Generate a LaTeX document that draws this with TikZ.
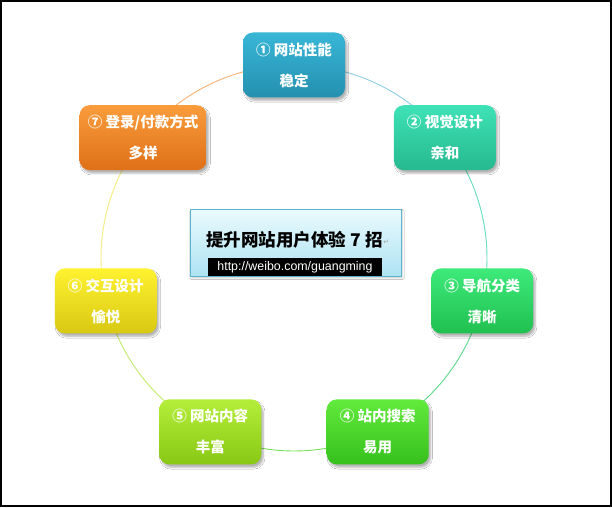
\documentclass[tikz,border=0pt]{standalone}
\usepackage{fontspec}
\newfontfamily\cjk{Noto Sans CJK SC}
\newfontfamily\libsans{Liberation Sans}
\newfontfamily\djvsans{DejaVu Sans}
\usetikzlibrary{shadows.blur}
\pgfdeclarelayer{bg}
\pgfsetlayers{bg,main}
\definecolor{c1t}{HTML}{38B6D6}\definecolor{c1b}{HTML}{2590B0}
\definecolor{c2t}{HTML}{3EE2B6}\definecolor{c2b}{HTML}{27B98F}
\definecolor{c3t}{HTML}{3DEA7A}\definecolor{c3b}{HTML}{20C050}
\definecolor{c4t}{HTML}{62EA3C}\definecolor{c4b}{HTML}{36C01C}
\definecolor{c5t}{HTML}{B4EE3A}\definecolor{c5b}{HTML}{88C814}
\definecolor{c6t}{HTML}{FFF230}\definecolor{c6b}{HTML}{D8C812}
\definecolor{c7t}{HTML}{F99C3C}\definecolor{c7b}{HTML}{DF7018}
\definecolor{a12}{HTML}{8CCFE3}\definecolor{a23}{HTML}{62DDBE}
\definecolor{a34}{HTML}{5CD98A}\definecolor{a45}{HTML}{78E058}
\definecolor{a56}{HTML}{C4EA70}\definecolor{a67}{HTML}{F6EC80}
\definecolor{a71}{HTML}{F8B274}
\definecolor{cbord}{HTML}{5AB4D0}
\definecolor{ctop}{HTML}{EAFAFD}\definecolor{cbot}{HTML}{AEE3F3}
\tikzset{
  stepnode/.style={rounded corners=10pt, minimum width=102pt, minimum height=65pt,
    inner sep=0pt, align=center, text=white,
    font=\cjk\bfseries\fontsize{14.5}{31}\selectfont,
    blur shadow={shadow xshift=2pt, shadow yshift=-3pt, shadow blur steps=6, shadow opacity=30}},
  ring/.style={line width=0.9pt},
  seg/.style={radius=193pt, delta angle=-51.4286}
}
\begin{document}
\begin{tikzpicture}[x=1pt,y=1pt]
\useasboundingbox (0,0) rectangle (612,507);
\begin{scope}[shift={(294,249)}]
\node[stepnode, top color=c1t, bottom color=c1b] (n1) at (90:193pt) {① 网站性能\\稳定};
\node[stepnode, top color=c2t, bottom color=c2b] (n2) at (38.571:193pt) {② 视觉设计\\亲和};
\node[stepnode, top color=c3t, bottom color=c3b] (n3) at (-12.857:193pt) {③ 导航分类\\清晰};
\node[stepnode, top color=c4t, bottom color=c4b] (n4) at (-64.286:193pt) {④ 站内搜索\\易用};
\node[stepnode, top color=c5t, bottom color=c5b] (n5) at (-115.714:193pt) {⑤ 网站内容\\丰富};
\node[stepnode, top color=c6t, bottom color=c6b] (n6) at (-167.143:193pt) {⑥ 交互设计\\愉悦};
\node[stepnode, top color=c7t, bottom color=c7b, minimum width=127pt] (n7) at (141.429:193pt) {⑦ 登录/付款方式\\多样};
\end{scope}
\node[draw=cbord, line width=0.8pt, top color=ctop, bottom color=cbot, minimum width=211pt, minimum height=67pt,
  blur shadow={shadow xshift=1.5pt, shadow yshift=-2pt, shadow blur steps=4, shadow opacity=20}] (ctr) at (295.5,264.5) {};
\node[inner sep=0pt, font=\cjk\bfseries\fontsize{17.5}{20}\selectfont] (title) at (294.5,267.5) {提升网站用户体验 7 招};
\node[anchor=west, inner sep=0pt, xshift=0.5pt, yshift=-3pt, text=gray!70, font=\djvsans\fontsize{7}{8}\selectfont] (ret) at (title.east) {↵};
\node[fill=black, text=white, minimum width=174pt, minimum height=18pt, inner sep=0pt,
  font=\libsans\fontsize{12.4}{14}\selectfont] (url) at (295,240) {http://weibo.com/guangming};
\begin{pgfonlayer}{bg}
\fill[white] (0,0) rectangle (612,507);
\draw[line width=2pt] (1,1) rectangle (611,506);
\draw[ring, a12] (n1.center) arc[seg, start angle=90];
\draw[ring, a23] (n2.center) arc[seg, start angle=38.571];
\draw[ring, a34] (n3.center) arc[seg, start angle=-12.857];
\draw[ring, a45] (n4.center) arc[seg, start angle=-64.286];
\draw[ring, a56] (n5.center) arc[seg, start angle=-115.714];
\draw[ring, a67] (n6.center) arc[seg, start angle=-167.143];
\draw[ring, a71] (n7.center) arc[seg, start angle=141.429];
\end{pgfonlayer}
\end{tikzpicture}
\end{document}
